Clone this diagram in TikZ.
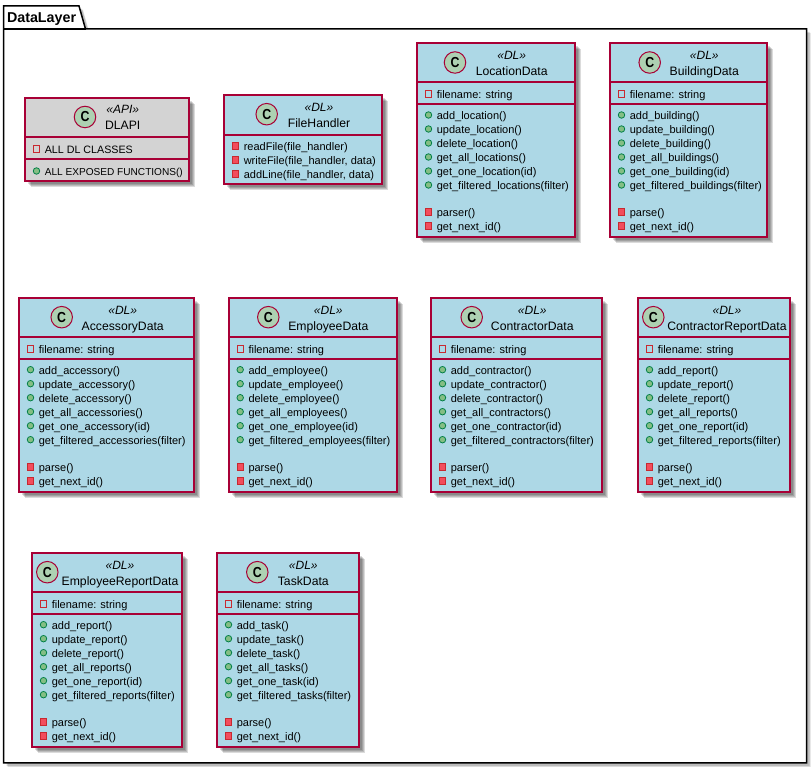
\documentclass[tikz,border=0pt]{standalone}
\usepackage{fontspec}
\setmainfont{Liberation Sans}
\definecolor{classBorder}{RGB}{168,0,54}
\definecolor{classFill}{RGB}{173,216,230}
\definecolor{apiFill}{RGB}{211,211,211}
\definecolor{spotFill}{RGB}{173,209,178}
\definecolor{pubFill}{RGB}{132,190,132}
\definecolor{pubDraw}{RGB}{3,128,72}
\definecolor{privFill}{RGB}{242,77,92}
\definecolor{privDraw}{RGB}{200,41,48}
\tikzset{
  softshadow/.style={fill=black,fill opacity=0.14},
  classframe/.style={draw=classBorder,line width=1.5pt},
  classrule/.style={draw=classBorder,line width=1.5pt},
  packagebody/.style={draw=black,fill=white,line width=1.5pt,line join=miter},
  packagetitle/.style={anchor=base west,inner sep=0pt,outer sep=0pt,font=\fontsize{14.3}{16}\selectfont\bfseries},
  spot/.style={circle,draw=classBorder,fill=spotFill,line width=1pt,minimum size=21.5pt,inner sep=0pt,outer sep=0pt,font=\fontsize{14.5}{16}\selectfont\bfseries},
  stereotext/.style={anchor=base,inner sep=0pt,outer sep=0pt,font=\fontsize{12}{14}\selectfont\itshape},
  nametext/.style={anchor=base,inner sep=0pt,outer sep=0pt,font=\fontsize{12.2}{14}\selectfont},
  rowtext/.style={anchor=base west,inner sep=0pt,outer sep=0pt,font=\fontsize{11}{13}\selectfont},
  pubmark/.style={circle,draw=pubDraw,fill=pubFill,line width=0.8pt,minimum size=6.5pt,inner sep=0pt,outer sep=0pt},
  privmark/.style={rectangle,draw=privDraw,fill=privFill,line width=0.8pt,minimum size=6.5pt,inner sep=0pt,outer sep=0pt},
  fieldmark/.style={rectangle,draw=privDraw,fill=none,line width=0.8pt,minimum size=6.5pt,inner sep=0pt,outer sep=0pt},
}
\newcommand{\classbody}[5]{
  \path[softshadow] (#1+3,#4-3) rectangle (#2+3,#3-3);
  \path[softshadow] (#1+4,#4-4) rectangle (#2+4,#3-4);
  \path[softshadow] (#1+5,#4-5) rectangle (#2+5,#3-5);
  \path[softshadow] (#1+6,#4-6) rectangle (#2+6,#3-6);
  \path[classframe,fill=#5] (#1,#4) rectangle (#2,#3);
}
\newcommand{\classline}[3]{\path[classrule] (#1,#3) -- (#2,#3);}
\newcommand{\classhead}[6]{
  \node[spot] (#1spot) at (#2,#4-19.5) {\scalebox{0.85}[1]{C}};
  \node[stereotext] (#1stereo) at (#3,#4-16.5) {«#5»};
  \node[nametext] (#1name) at (#3,#4-32.5) {#6};
}
\newcommand{\fieldrow}[4]{
  \node[fieldmark] (#1mark) at (#2+11.2,#3) {};
  \node[rowtext] (#1) at (#2+19.5,#3-4.6) {#4};
}
\newcommand{\pubrow}[4]{
  \node[pubmark] (#1mark) at (#2+11.2,#3) {};
  \node[rowtext] (#1) at (#2+19.5,#3-4.6) {#4};
}
\newcommand{\privrow}[4]{
  \node[privmark] (#1mark) at (#2+11.2,#3) {};
  \node[rowtext] (#1) at (#2+19.5,#3-4.6) {#4};
}
\begin{document}
\begin{tikzpicture}[x=1pt,y=1pt]
\useasboundingbox (0,0) rectangle (812,768);

\path[softshadow] (6.5,2) -- (6.5,759) -- (82,759) -- (88.5,736) -- (809.5,736) -- (809.5,2) -- cycle;
\path[softshadow] (7.5,1) -- (7.5,758) -- (83,758) -- (89.5,735) -- (810.5,735) -- (810.5,1) -- cycle;
\path[packagebody] (3.5,5) -- (3.5,762) -- (79,762) -- (85.5,739) -- (806.5,739) -- (806.5,5) -- cycle;
\path[packagebody] (3.5,739) -- (85.5,739);
\node[packagetitle] (packageTitle) at (7,745) {DataLayer};

\classbody{25}{189}{670}{587}{apiFill}
\classline{25}{189}{631}
\classline{25}{189}{609}
\classhead{api}{85}{122.7}{670.5}{API}{DLAPI}
\fieldrow{api1}{25.3}{619}{\fontsize{10.7}{13}\selectfont ALL DL CLASSES}
\pubrow{api2}{25.3}{597}{\fontsize{10.1}{13}\selectfont ALL EXPOSED FUNCTIONS()}

\classbody{224}{382}{673}{584}{classFill}
\classline{224}{382}{633}
\classhead{file}{266.7}{319}{673.3}{DL}{FileHandler}
\privrow{file1}{224.3}{622}{readFile(file\_handler)}
\privrow{file2}{224.3}{608}{writeFile(file\_handler, data)}
\privrow{file3}{224.3}{594}{addLine(file\_handler, data)}

\classbody{417}{575}{725}{531}{classFill}
\classline{417}{575}{686}
\classline{417}{575}{664}
\classhead{loc}{455}{511.7}{725}{DL}{LocationData}
\fieldrow{loc0}{417.3}{674}{filename: string}
\pubrow{loc1}{417.3}{653}{add\_location()}
\pubrow{loc2}{417.3}{639}{update\_location()}
\pubrow{loc3}{417.3}{625}{delete\_location()}
\pubrow{loc4}{417.3}{611}{get\_all\_locations()}
\pubrow{loc5}{417.3}{597}{get\_one\_location(id)}
\pubrow{loc6}{417.3}{583}{get\_filtered\_locations(filter)}
\privrow{loc7}{417.3}{556}{parser()}
\privrow{loc8}{417.3}{542}{get\_next\_id()}

\classbody{610}{767}{725}{531}{classFill}
\classline{610}{767}{686}
\classline{610}{767}{664}
\classhead{bld}{649.7}{704.3}{725}{DL}{BuildingData}
\fieldrow{bld0}{610.3}{674}{filename: string}
\pubrow{bld1}{610.3}{653}{add\_building()}
\pubrow{bld2}{610.3}{639}{update\_building()}
\pubrow{bld3}{610.3}{625}{delete\_building()}
\pubrow{bld4}{610.3}{611}{get\_all\_buildings()}
\pubrow{bld5}{610.3}{597}{get\_one\_building(id)}
\pubrow{bld6}{610.3}{583}{get\_filtered\_buildings(filter)}
\privrow{bld7}{610.3}{556}{parse()}
\privrow{bld8}{610.3}{542}{get\_next\_id()}

\classbody{19}{194}{470}{276}{classFill}
\classline{19}{194}{431}
\classline{19}{194}{409}
\classhead{acc}{61.7}{122.7}{470.3}{DL}{AccessoryData}
\fieldrow{acc0}{19.3}{419.3}{filename: string}
\pubrow{acc1}{19.3}{398.3}{add\_accessory()}
\pubrow{acc2}{19.3}{384.3}{update\_accessory()}
\pubrow{acc3}{19.3}{370.3}{delete\_accessory()}
\pubrow{acc4}{19.3}{356.3}{get\_all\_accessories()}
\pubrow{acc5}{19.3}{342.3}{get\_one\_accessory(id)}
\pubrow{acc6}{19.3}{328.3}{get\_filtered\_accessories(filter)}
\privrow{acc7}{19.3}{301.3}{parse()}
\privrow{acc8}{19.3}{287.3}{get\_next\_id()}

\classbody{229}{397}{470}{276}{classFill}
\classline{229}{397}{431}
\classline{229}{397}{409}
\classhead{emp}{268.3}{328.3}{470.3}{DL}{EmployeeData}
\fieldrow{emp0}{229}{419.3}{filename: string}
\pubrow{emp1}{229}{398.3}{add\_employee()}
\pubrow{emp2}{229}{384.3}{update\_employee()}
\pubrow{emp3}{229}{370.3}{delete\_employee()}
\pubrow{emp4}{229}{356.3}{get\_all\_employees()}
\pubrow{emp5}{229}{342.3}{get\_one\_employee(id)}
\pubrow{emp6}{229}{328.3}{get\_filtered\_employees(filter)}
\privrow{emp7}{229}{301.3}{parse()}
\privrow{emp8}{229}{287.3}{get\_next\_id()}

\classbody{431}{602}{470}{276}{classFill}
\classline{431}{602}{431}
\classline{431}{602}{409}
\classhead{con}{471.7}{532.3}{470.3}{DL}{ContractorData}
\fieldrow{con0}{431.3}{419.3}{filename: string}
\pubrow{con1}{431.3}{398.3}{add\_contractor()}
\pubrow{con2}{431.3}{384.3}{update\_contractor()}
\pubrow{con3}{431.3}{370.3}{delete\_contractor()}
\pubrow{con4}{431.3}{356.3}{get\_all\_contractors()}
\pubrow{con5}{431.3}{342.3}{get\_one\_contractor(id)}
\pubrow{con6}{431.3}{328.3}{get\_filtered\_contractors(filter)}
\privrow{con7}{431.3}{301.3}{parser()}
\privrow{con8}{431.3}{287.3}{get\_next\_id()}

\classbody{638}{790}{470}{276}{classFill}
\classline{638}{790}{431}
\classline{638}{790}{409}
\classhead{crp}{653.3}{727}{470.3}{DL}{ContractorReportData}
\fieldrow{crp0}{638.3}{419.3}{filename: string}
\pubrow{crp1}{638.3}{398.3}{add\_report()}
\pubrow{crp2}{638.3}{384.3}{update\_report()}
\pubrow{crp3}{638.3}{370.3}{delete\_report()}
\pubrow{crp4}{638.3}{356.3}{get\_all\_reports()}
\pubrow{crp5}{638.3}{342.3}{get\_one\_report(id)}
\pubrow{crp6}{638.3}{328.3}{get\_filtered\_reports(filter)}
\privrow{crp7}{638.3}{301.3}{parse()}
\privrow{crp8}{638.3}{287.3}{get\_next\_id()}

\classbody{32}{182}{215}{21}{classFill}
\classline{32}{182}{176}
\classline{32}{182}{154}
\classhead{erp}{47.3}{120}{215.3}{DL}{EmployeeReportData}
\fieldrow{erp0}{32.3}{164.3}{filename: string}
\pubrow{erp1}{32.3}{143.3}{add\_report()}
\pubrow{erp2}{32.3}{129.3}{update\_report()}
\pubrow{erp3}{32.3}{115.3}{delete\_report()}
\pubrow{erp4}{32.3}{101.3}{get\_all\_reports()}
\pubrow{erp5}{32.3}{87.3}{get\_one\_report(id)}
\pubrow{erp6}{32.3}{73.3}{get\_filtered\_reports(filter)}
\privrow{erp7}{32.3}{46.3}{parse()}
\privrow{erp8}{32.3}{32.3}{get\_next\_id()}

\classbody{217}{359}{215}{21}{classFill}
\classline{217}{359}{176}
\classline{217}{359}{154}
\classhead{tsk}{257.3}{303.3}{215.3}{DL}{TaskData}
\fieldrow{tsk0}{217.3}{164.3}{filename: string}
\pubrow{tsk1}{217.3}{143.3}{add\_task()}
\pubrow{tsk2}{217.3}{129.3}{update\_task()}
\pubrow{tsk3}{217.3}{115.3}{delete\_task()}
\pubrow{tsk4}{217.3}{101.3}{get\_all\_tasks()}
\pubrow{tsk5}{217.3}{87.3}{get\_one\_task(id)}
\pubrow{tsk6}{217.3}{73.3}{get\_filtered\_tasks(filter)}
\privrow{tsk7}{217.3}{46.3}{parse()}
\privrow{tsk8}{217.3}{32.3}{get\_next\_id()}
\end{tikzpicture}
\end{document}
